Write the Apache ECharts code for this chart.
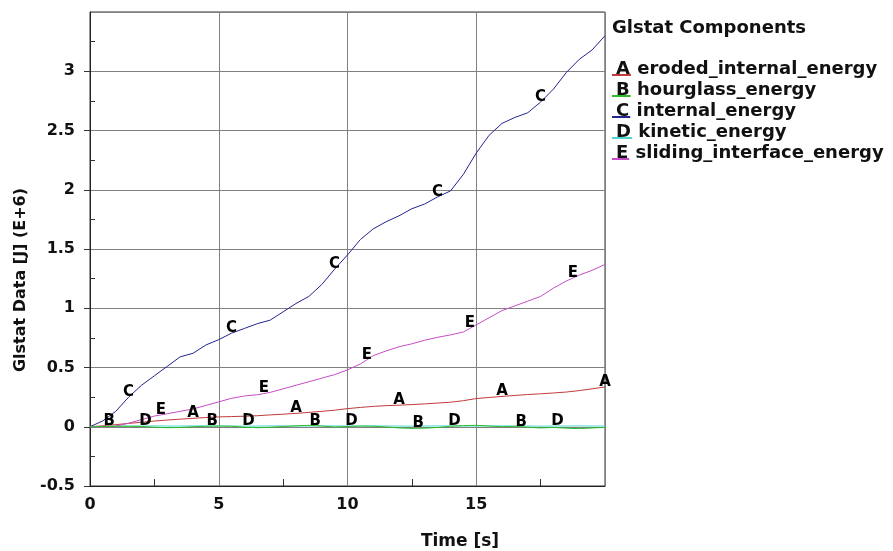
<!DOCTYPE html>
<html>
<head>
<meta charset="utf-8">
<script src="https://cdn.jsdelivr.net/npm/echarts@6/dist/echarts.min.js"></script>
<style>
  html, body { margin: 0; padding: 0; background: #fff; }
  #glstatChart { width: 893px; height: 551px; }
</style>
</head>
<body>
<div id="glstatChart"></div>
<script>
// sample times [s]
var times = [0, 0.5, 1, 1.5, 2, 2.5, 3, 3.5, 4, 4.5, 5, 5.5, 6, 6.5, 7, 7.5, 8, 8.5, 9, 9.5,
             10, 10.5, 11, 11.5, 12, 12.5, 13, 13.5, 14, 14.5, 15, 15.5, 16, 16.5, 17, 17.5, 18, 18.5, 19, 19.5, 20];

// values in E+6 J
var erodedInternal = [0, 0.008, 0.018, 0.028, 0.038, 0.048, 0.057, 0.064, 0.071, 0.078, 0.083, 0.086, 0.089, 0.093,
                      0.100, 0.106, 0.113, 0.121, 0.130, 0.140, 0.153, 0.163, 0.172, 0.178, 0.182, 0.187, 0.193,
                      0.200, 0.207, 0.220, 0.238, 0.247, 0.256, 0.264, 0.272, 0.278, 0.285, 0.293, 0.305, 0.320, 0.336];
var hourglass = [0, 0.002, 0.004, 0.004, 0.002, -0.004, -0.008, -0.006, 0.000, 0.004, 0.006, 0.004, -0.004, -0.008,
                 -0.004, 0.002, 0.008, 0.012, 0.006, -0.002, 0.002, 0.006, 0.004, -0.002, -0.010, -0.014, -0.012,
                 -0.006, 0.004, 0.010, 0.012, 0.006, 0.000, 0.004, -0.004, -0.010, -0.006, -0.012, -0.016, -0.010, -0.006];
var internal = [0, 0.05, 0.13, 0.25, 0.35, 0.43, 0.51, 0.59, 0.62, 0.69, 0.735, 0.79, 0.83, 0.87, 0.90, 0.97, 1.04,
                1.10, 1.20, 1.33, 1.45, 1.58, 1.67, 1.73, 1.78, 1.84, 1.88, 1.94, 1.99, 2.13, 2.31, 2.46, 2.56, 2.61,
                2.65, 2.74, 2.85, 2.99, 3.10, 3.18, 3.30];
var kinetic = [0, 0.003, 0.005, 0.006, 0.006, 0.007, 0.006, 0.006, 0.007, 0.007, 0.006, 0.006, 0.005, 0.006, 0.007,
               0.007, 0.006, 0.006, 0.007, 0.007, 0.006, 0.006, 0.007, 0.006, 0.006, 0.005, 0.006, 0.007, 0.007,
               0.006, 0.006, 0.007, 0.007, 0.006, 0.006, 0.005, 0.006, 0.006, 0.007, 0.006, 0.006];
var slidingInterface = [0, 0, 0.005, 0.03, 0.06, 0.09, 0.11, 0.13, 0.15, 0.18, 0.21, 0.24, 0.26, 0.27, 0.29, 0.32,
                        0.35, 0.38, 0.41, 0.44, 0.48, 0.53, 0.60, 0.64, 0.675, 0.70, 0.73, 0.755, 0.775, 0.80, 0.86,
                        0.92, 0.98, 1.02, 1.06, 1.10, 1.17, 1.23, 1.28, 1.32, 1.37];

// letter markers along each curve
var labelTimesA = [4, 8, 12, 16, 20];
var labelValuesA = [0.071, 0.113, 0.182, 0.256, 0.336];
var labelTimesB = [0.75, 4.75, 8.75, 12.75, 16.75];
var labelValuesB = [0.003, 0.005, 0.009, -0.013, 0.000];
var labelTimesC = [1.5, 5.5, 9.5, 13.5, 17.5];
var labelValuesC = [0.25, 0.79, 1.33, 1.94, 2.74];
var labelTimesD = [2.15, 6.15, 10.15, 14.15, 18.15];
var labelValuesD = [0.006, 0.005, 0.006, 0.007, 0.006];
var labelTimesE = [2.75, 6.75, 10.75, 14.75, 18.75];
var labelValuesE = [0.10, 0.28, 0.565, 0.83, 1.255];

var letters = {
    eroded_internal_energy: 'A',
    hourglass_energy: 'B',
    internal_energy: 'C',
    kinetic_energy: 'D',
    sliding_interface_energy: 'E'
};
var colors = {
    eroded_internal_energy: '#c03a3a',
    hourglass_energy: '#2dbb2d',
    internal_energy: '#23238f',
    kinetic_energy: '#4dd6d0',
    sliding_interface_energy: '#c44cc4'
};

var fontName = 'DejaVu Sans';

function buildData(values, labelTimes, labelValues, letter) {
    var pts = times.map(function (t, i) {
        return { value: [t, values[i]] };
    });
    labelTimes.forEach(function (t, k) {
        var hit = pts.find(function (p) { return p.value[0] === t; });
        var p = hit || { value: [t, labelValues[k]] };
        p.label = { show: true, formatter: letter };
        if (!hit) pts.push(p);
    });
    pts.sort(function (a, b) { return a.value[0] - b.value[0]; });
    return pts;
}

function makeSeries(name, values, labelTimes, labelValues, z) {
    return {
        name: name,
        type: 'line',
        z: z,
        symbol: 'circle',
        symbolSize: 0,
        showSymbol: true,
        lineStyle: { width: 1, color: colors[name] },
        itemStyle: { color: colors[name] },
        label: {
            show: false,
            position: 'inside',
            offset: [0, -5],
            color: '#000',
            fontSize: 15,
            fontWeight: 'bold',
            fontFamily: fontName
        },
        emphasis: { disabled: true },
        data: buildData(values, labelTimes, labelValues, letters[name])
    };
}

// underlined letter in the legend: a gradient background coloured only in a thin band near the bottom
var legendRich = {};
Object.keys(letters).forEach(function (name) {
    var c = colors[name];
    legendRich['u' + letters[name]] = {
        fontSize: 18,
        fontWeight: 'bold',
        fontFamily: fontName,
        color: '#111',
        lineHeight: 14,
        padding: [0, 1, 0, 4],
        backgroundColor: new echarts.graphic.LinearGradient(0, 0, 0, 1, [
            { offset: 0, color: 'rgba(255,255,255,0)' },
            { offset: 0.77, color: 'rgba(255,255,255,0)' },
            { offset: 0.77, color: c },
            { offset: 0.87, color: c },
            { offset: 0.87, color: 'rgba(255,255,255,0)' },
            { offset: 1, color: 'rgba(255,255,255,0)' }
        ])
    };
});

var glstatChart = echarts.init(document.getElementById('glstatChart'));

var option = {
    animation: false,
    title: {
        text: 'Glstat Components',
        left: 607,
        top: 14,
        textStyle: { fontSize: 18, fontWeight: 'bold', fontFamily: fontName, color: '#111' }
    },
    legend: {
        orient: 'vertical',
        left: 602,
        top: 54,
        icon: 'none',
        itemWidth: 0,
        itemHeight: 18,
        itemGap: 0,
        selectedMode: false,
        formatter: function (name) {
            return '{u' + letters[name] + '|' + letters[name] + '} ' + name;
        },
        textStyle: {
            fontSize: 18,
            fontWeight: 'bold',
            fontFamily: fontName,
            color: '#111',
            lineHeight: 21,
            rich: legendRich
        }
    },
    grid: {
        left: 90,
        right: 288,
        top: 12,
        bottom: 65,
        outerBoundsMode: 'none',
        containLabel: false,
        show: true,
        borderColor: '#333',
        borderWidth: 1
    },
    xAxis: {
        type: 'value',
        min: 0,
        max: 20,
        interval: 5,
        name: 'Time [s]',
        nameLocation: 'middle',
        nameGap: 47,
        nameTextStyle: { fontSize: 17, fontWeight: 'bold', fontFamily: fontName, color: '#111', padding: [0, 0, 0, 225] },
        axisLine: { onZero: false, lineStyle: { color: '#222' } },
        axisTick: { show: false, inside: true },
        minorTick: { show: true, splitNumber: 2, length: 7, lineStyle: { color: '#333' } },
        axisLabel: { fontSize: 16, fontWeight: 'bold', fontFamily: fontName, color: '#111', margin: 11, showMaxLabel: false },
        splitLine: { show: true, lineStyle: { color: '#808080' } }
    },
    yAxis: [
        {
            type: 'value',
            min: -0.5,
            max: 3.5,
            interval: 0.5,
            name: 'Glstat Data [J] (E+6)',
            nameLocation: 'middle',
            nameGap: 60,
            nameTextStyle: { fontSize: 16, fontWeight: 'bold', fontFamily: fontName, color: '#111', padding: [0, 62, 0, 0] },
            axisLine: { show: true, onZero: false, lineStyle: { color: '#222' } },
            axisTick: { show: true, length: 6, lineStyle: { color: '#333' } },
            axisLabel: { fontSize: 16, fontWeight: 'bold', fontFamily: fontName, color: '#111', margin: 15, showMaxLabel: false },
            splitLine: { show: true, lineStyle: { color: '#808080' } }
        },
        {
            // inner minor ticks only
            type: 'value',
            min: -0.5,
            max: 3.5,
            interval: 0.5,
            position: 'left',
            axisLine: { show: false, onZero: false },
            axisTick: { show: false, inside: true },
            minorTick: { show: true, splitNumber: 2, length: 5, lineStyle: { color: '#333' } },
            axisLabel: { show: false },
            splitLine: { show: false }
        }
    ],
    series: [
        makeSeries('eroded_internal_energy', erodedInternal, labelTimesA, labelValuesA, 2),
        makeSeries('hourglass_energy', hourglass, labelTimesB, labelValuesB, 3),
        makeSeries('internal_energy', internal, labelTimesC, labelValuesC, 2),
        makeSeries('kinetic_energy', kinetic, labelTimesD, labelValuesD, 2),
        makeSeries('sliding_interface_energy', slidingInterface, labelTimesE, labelValuesE, 2)
    ]
};

glstatChart.setOption(option);
</script>
</body>
</html>
